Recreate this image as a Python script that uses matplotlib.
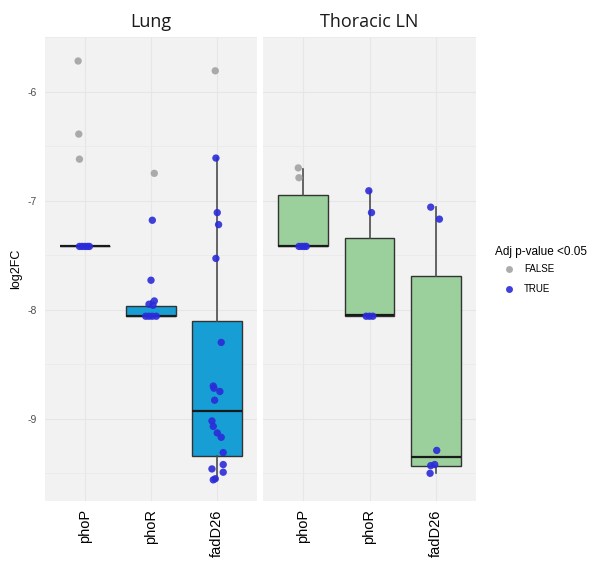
import matplotlib.pyplot as plt
import numpy as np

genes = ['phoP', 'phoR', 'fadD26']
tissues = ['Lung', 'Thoracic LN']

# box stats per tissue, in gene order: (whislo, q1, med, q3, whishi)
lung_box = [(-7.42, -7.42, -7.42, -7.42, -7.42),
            (-8.06, -8.06, -8.06, -7.97, -7.92),
            (-9.56, -9.34, -8.93, -8.10, -6.61)]
tln_box = [(-7.42, -7.42, -7.42, -6.95, -6.71),
           (-8.06, -8.06, -8.05, -7.34, -6.91),
           (-9.50, -9.43, -9.35, -7.69, -7.06)]

# points: gene index, jitter offset, log2FC, significant
lung_gene = [0, 0, 0, 0, 0, 0, 0, 0,
             1, 1, 1, 1, 1, 1, 1, 1, 1, 1,
             2, 2, 2, 2, 2, 2, 2, 2, 2, 2, 2, 2, 2, 2, 2, 2, 2, 2, 2, 2]
lung_jit = [-0.10, -0.09, -0.08, -0.08, -0.04, 0.0, 0.04, 0.07,
            0.05, 0.02, 0.0, 0.05, -0.03, 0.03, -0.08, -0.03, 0.02, 0.08,
            -0.03, -0.02, 0.0, 0.02, -0.02, 0.06, -0.06, -0.05, 0.04, -0.04,
            -0.08, -0.06, 0.0, 0.06, 0.09, 0.09, -0.08, 0.09, -0.06, -0.03]
lung_val = [-5.72, -6.39, -6.62, -7.42, -7.42, -7.42, -7.42, -7.42,
            -6.75, -7.18, -7.73, -7.92, -7.95, -7.96, -8.06, -8.06, -8.06, -8.06,
            -5.81, -6.61, -7.11, -7.22, -7.53, -8.30, -8.70, -8.72, -8.75, -8.83,
            -9.02, -9.07, -9.13, -9.17, -9.31, -9.42, -9.46, -9.49, -9.56, -9.55]
lung_sig = [False, False, False, True, True, True, True, True,
            False, True, True, True, True, True, True, True, True, True,
            False, True, True, True, True, True, True, True, True, True,
            True, True, True, True, True, True, True, True, True, True]

tln_gene = [0, 0, 0, 0, 0, 0, 1, 1, 1, 1, 1, 2, 2, 2, 2, 2, 2]
tln_jit = [-0.07, -0.06, -0.06, -0.02, 0.02, 0.05,
           -0.01, 0.03, -0.05, 0.0, 0.05,
           -0.08, 0.05, 0.01, -0.08, -0.02, -0.09]
tln_val = [-6.70, -6.79, -7.42, -7.42, -7.42, -7.42,
           -6.91, -7.11, -8.06, -8.06, -8.06,
           -7.06, -7.17, -9.29, -9.43, -9.42, -9.50]
tln_sig = [False, False, True, True, True, True,
           True, True, True, True, True,
           True, True, True, True, True, True]

box_cols = ['#179FD5', '#9BCF9B']
pt_cols = {False: '#A3A3A3', True: '#2B2BD9'}

plt.rcParams['font.family'] = ['Liberation Sans', 'DejaVu Sans']
plt.rcParams['axes.unicode_minus'] = False

fig = plt.figure(figsize=(6.0, 5.69), dpi=100)
ax1 = fig.add_axes([45/600, 68/569, 212/600, 464/569])
ax2 = fig.add_axes([263/600, 68/569, 213/600, 464/569])

data = [(lung_box, lung_gene, lung_jit, lung_val, lung_sig),
        (tln_box, tln_gene, tln_jit, tln_val, tln_sig)]

for i, ax in enumerate([ax1, ax2]):
    box, g, jit, val, sig = data[i]
    ax.set_facecolor('#F2F2F2')
    stats = []
    for k, b in enumerate(box):
        stats.append(dict(whislo=b[0], q1=b[1], med=b[2], q3=b[3], whishi=b[4], label=genes[k]))
    ax.bxp(stats, positions=[1, 2, 3], widths=0.75, patch_artist=True,
           showfliers=False, showcaps=False,
           boxprops=dict(facecolor=box_cols[i], edgecolor='#333333', linewidth=1),
           medianprops=dict(color='#1A1A1A', linewidth=1.6),
           whiskerprops=dict(color='#4D4D4D', linewidth=1.2), zorder=2)
    x = np.array(g) + 1 + np.array(jit)
    c = [pt_cols[s] for s in sig]
    ax.scatter(x, val, s=28, c=c, alpha=0.9, linewidths=0, zorder=3)
    ax.set_xlim(0.4, 3.6)
    ax.set_ylim(-9.754, -5.523)
    ax.set_xticks([1, 2, 3])
    ax.set_xticklabels(genes, rotation=90, fontsize=10.5)
    ax.set_yticks([-9, -8, -7, -6])
    ax.set_yticks([-9.5, -8.5, -7.5, -6.5, -5.5], minor=True)
    ax.grid(True, which='major', color='#E6E6E6', linewidth=0.8)
    ax.grid(True, which='minor', color='#EAEAEA', linewidth=0.6)
    ax.set_axisbelow(True)
    ax.tick_params(length=0, pad=6, which='both')
    ax.tick_params(axis='y', labelsize=7.5, labelcolor='#4D4D4D')
    for s in ax.spines.values():
        s.set_visible(False)
    ax.set_title(tissues[i], fontsize=13, family=['Open Sans', 'DejaVu Sans'], pad=7, color='#1A1A1A')

ax2.tick_params(axis='y', labelleft=False)
ax1.set_ylabel('log2FC', fontsize=9, labelpad=4)

# legend
fig.text(495/600, 1 - 252/569, 'Adj p-value <0.05', fontsize=8.5, va='center', ha='left')
for lab, yy in [(False, 269), (True, 289)]:
    fig.lines.append(plt.Line2D([509/600], [1 - yy/569], marker='o', markersize=5,
                                color=pt_cols[lab], alpha=0.9, markeredgewidth=0,
                                transform=fig.transFigure))
    fig.text(524/600, 1 - yy/569, str(lab).upper(), fontsize=7, va='center', ha='left')

fig.savefig('out.png', dpi=100)
